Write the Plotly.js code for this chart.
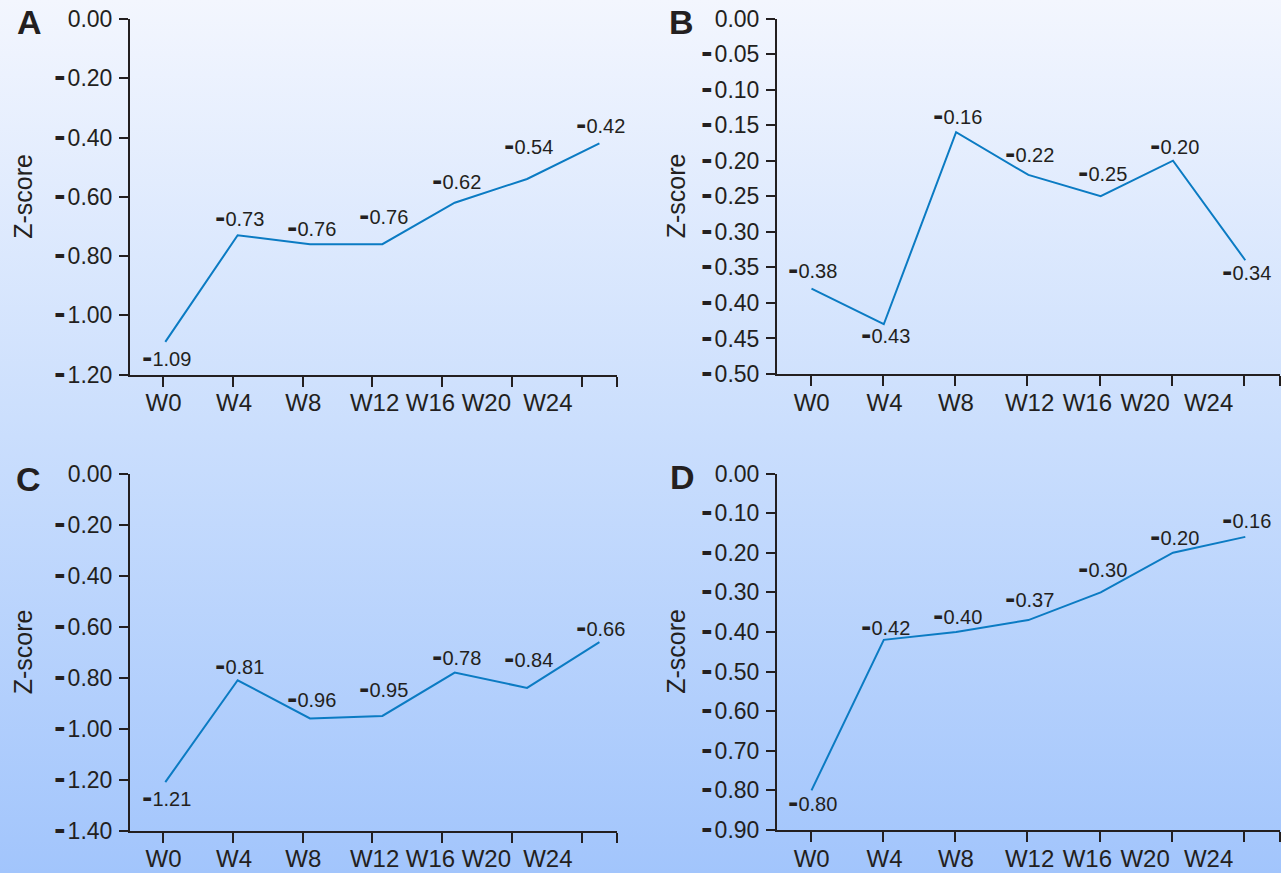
<!DOCTYPE html>
<html>
<head>
<meta charset="utf-8">
<script src="https://cdn.plot.ly/plotly-3.0.1.min.js"></script>
<style>
  html, body { margin:0; padding:0; }
  body { width:1281px; height:873px; background: linear-gradient(to bottom, #f3f6fe 0%, #cadefd 50%, #a2c5fc 100%); }
  #chart { width:1281px; height:873px; }
</style>
</head>
<body>
<div id="chart"></div>
<script>
// ---------- data ----------
const categories = ['W0', 'W4', 'W8', 'W12', 'W16', 'W20', 'W24'];
const valuesA = [-1.09, -0.73, -0.76, -0.76, -0.62, -0.54, -0.42];
const valuesB = [-0.38, -0.43, -0.16, -0.22, -0.25, -0.20, -0.34];
const valuesC = [-1.21, -0.81, -0.96, -0.95, -0.78, -0.84, -0.66];
const valuesD = [-0.80, -0.42, -0.40, -0.37, -0.30, -0.20, -0.16];
const yTickLabelsA = ['0.00', '-0.20', '-0.40', '-0.60', '-0.80', '-1.00', '-1.20'];
const yTickLabelsB = ['0.00', '-0.05', '-0.10', '-0.15', '-0.20', '-0.25', '-0.30', '-0.35', '-0.40', '-0.45', '-0.50'];
const yTickLabelsC = ['0.00', '-0.20', '-0.40', '-0.60', '-0.80', '-1.00', '-1.20', '-1.40'];
const yTickLabelsD = ['0.00', '-0.10', '-0.20', '-0.30', '-0.40', '-0.50', '-0.60', '-0.70', '-0.80', '-0.90'];
const panelLetters = ['A', 'B', 'C', 'D'];
const yTitle = 'Z-score';

// ---------- layout / style ----------
const W = 1281, H = 873;
const ink = '#231f20';
const lineColor = '#0b7bc3';
const fontFam = 'Liberation Sans, Arial, sans-serif';
const dashTickSpan = '<span style="font-family:DejaVu Sans;font-weight:bold;font-size:28px">-</span>';
const dashLabelSpan = '<span style="font-family:DejaVu Sans;font-weight:bold;font-size:25px">-</span>';
const dashTick = s => s.replace('-', dashTickSpan + '\u200A');
const dashLabel = s => s.replace('-', dashLabelSpan);

const panels = [
  { vals: valuesA, ticks: yTickLabelsA, px: [130, 617], py: [19, 374.5], dataRange: [-0.488, 6.243],
    shifts: [-16, 18, 17, 29, 22, 33, 19], letterPos: [29, 22], titleX: 23 },
  { vals: valuesB, ticks: yTickLabelsB, px: [777, 1280], py: [18.5, 374], dataRange: [-0.477, 6.48],
    shifts: [19, -10, 17, 21, 24, 15, -11], letterPos: [681, 22], titleX: 676 },
  { vals: valuesC, ticks: yTickLabelsC, px: [130, 617], py: [474, 830.5], dataRange: [-0.488, 6.243],
    shifts: [-15, 15, 20, 27, 16, 29, 15], letterPos: [28.5, 479], titleX: 23 },
  { vals: valuesD, ticks: yTickLabelsD, px: [777, 1280], py: [473.5, 830], dataRange: [-0.477, 6.48],
    shifts: [-12, 13, 16, 22, 24, 16, 17], letterPos: [682, 477], titleX: 676 }
];
const axisRange = [-0.47, 6.5];
const tickPositions = [0, 1, 2, 3, 4, 5, 6, 6.5];
const labelPositions = [0.01, 1.02, 2.01, 3.03, 3.83, 4.63, 5.51];

const traces = [];
const layout = {
  width: W, height: H,
  margin: { l: 0, r: 0, t: 0, b: 0 },
  paper_bgcolor: 'rgba(0,0,0,0)',
  plot_bgcolor: 'rgba(0,0,0,0)',
  showlegend: false,
  font: { family: fontFam, color: ink },
  annotations: []
};

panels.forEach((p, i) => {
  const n = i + 1;
  const xs = n === 1 ? '' : String(n);
  const ovN = n + 4;
  const xd = [p.px[0] / W, p.px[1] / W];
  const yd = [1 - p.py[1] / H, 1 - p.py[0] / H];
  const tickVals = p.ticks.map(Number);
  const yMin = Math.min(...tickVals);

  traces.push({
    type: 'scatter', mode: 'lines',
    x: categories, y: p.vals,
    xaxis: 'x' + xs, yaxis: 'y' + xs,
    line: { color: lineColor, width: 2 },
    hoverinfo: 'skip'
  });
  traces.push({
    type: 'scatter', mode: 'lines', x: [], y: [],
    xaxis: 'x' + ovN, yaxis: 'y' + xs, hoverinfo: 'skip'
  });

  layout['xaxis' + xs] = {
    type: 'category', domain: xd, anchor: 'y' + xs,
    range: p.dataRange, autorange: false, visible: false,
    showgrid: false, zeroline: false
  };
  layout['xaxis' + ovN] = {
    type: 'linear', domain: xd, anchor: 'y' + xs, overlaying: 'x' + xs,
    range: axisRange, autorange: false,
    showgrid: false, zeroline: false,
    showline: true, linecolor: ink, linewidth: 2,
    tickmode: 'array', tickvals: labelPositions, ticktext: categories,
    ticks: '', tickfont: { size: 24, color: ink, family: fontFam },
    ticklabelstandoff: 6,
    minor: { tickmode: 'array', tickvals: tickPositions, ticks: 'outside', ticklen: 10, tickwidth: 2, tickcolor: ink, showgrid: false }
  };
  layout['yaxis' + xs] = {
    domain: yd, anchor: 'x' + xs,
    range: [yMin, 0], autorange: false,
    showgrid: false, zeroline: false,
    showline: true, linecolor: ink, linewidth: 2,
    ticks: 'outside', ticklen: 9, tickwidth: 2, tickcolor: ink,
    tickmode: 'array', tickvals: tickVals, ticktext: p.ticks.map(dashTick),
    tickfont: { size: 23, color: ink, family: fontFam },
    ticklabelstandoff: 2
  };

  // value labels
  p.vals.forEach((v, k) => {
    layout.annotations.push({
      xref: 'x' + xs, yref: 'y' + xs, x: categories[k], y: v,
      text: dashLabel(v.toFixed(2)), showarrow: false,
      xanchor: 'center', yanchor: 'middle',
      xshift: 1.5, yshift: p.shifts[k],
      font: { size: 20, color: ink, family: fontFam }
    });
  });
  // y title
  layout.annotations.push({
    xref: 'paper', yref: 'paper',
    x: p.titleX / W, y: 1 - (p.py[0] + p.py[1]) / 2 / H,
    text: yTitle, textangle: -90, showarrow: false,
    xanchor: 'center', yanchor: 'middle',
    font: { size: 25, color: ink, family: fontFam }
  });
  // panel letter
  layout.annotations.push({
    xref: 'paper', yref: 'paper',
    x: p.letterPos[0] / W, y: 1 - p.letterPos[1] / H,
    text: '<b>' + panelLetters[i] + '</b>', showarrow: false,
    xanchor: 'center', yanchor: 'middle',
    font: { size: 34, color: ink, family: 'Liberation Sans, Arial, sans-serif' }
  });
});

Plotly.newPlot('chart', traces, layout, { staticPlot: true, displayModeBar: false });
</script>
</body>
</html>
